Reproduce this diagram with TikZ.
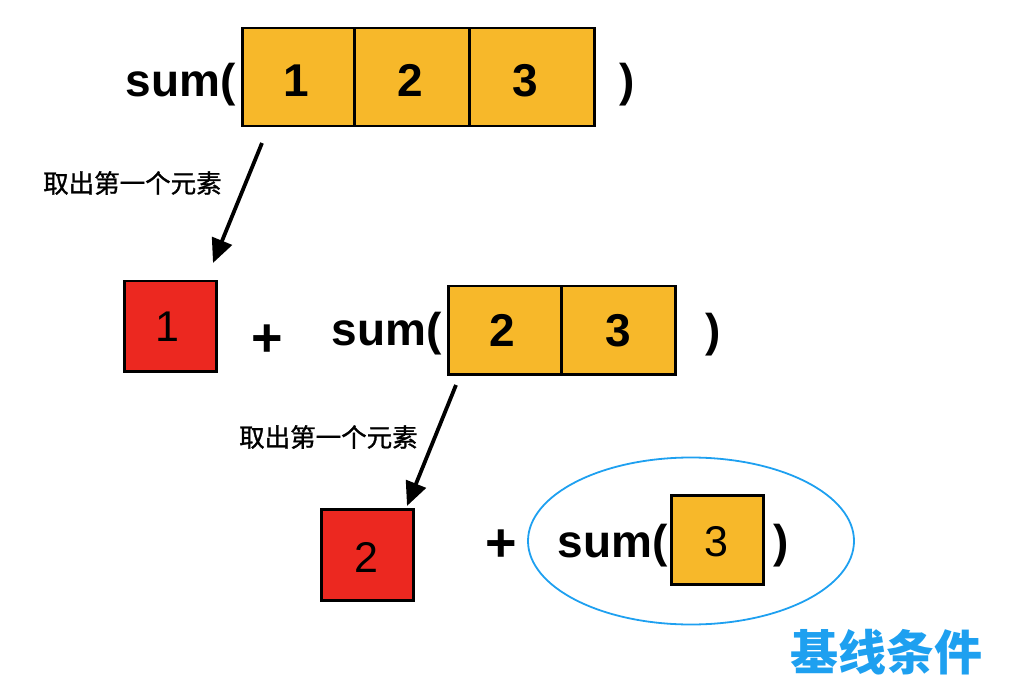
\documentclass[tikz,border=0pt]{standalone}
\usepackage{fontspec}
\setmainfont{Liberation Sans}
\newfontfamily\cjk{Noto Sans CJK SC}
\newfontfamily\cjkmed[FakeBold=1.2]{Noto Sans CJK SC}
\usetikzlibrary{arrows.meta,shapes.geometric}
\definecolor{boxorange}{RGB}{247,184,42}
\definecolor{boxred}{RGB}{236,40,32}
\definecolor{baseblue}{RGB}{30,160,240}
\tikzset{
  cell/.style={draw=black,line width=2.5pt,inner sep=0pt,anchor=north west},
  ocell/.style={cell,fill=boxorange},
  rcell/.style={cell,fill=boxred},
  bigbold/.style={font=\fontsize{46}{46}\selectfont\bfseries,inner sep=0pt},
  plusbold/.style={font=\fontsize{54}{54}\selectfont\bfseries,inner sep=0pt},
  bigreg/.style={font=\fontsize{43}{43}\selectfont,inner sep=0pt},
  cjklabel/.style={font=\cjkmed\fontsize{25.5}{25.5}\selectfont,inner sep=0pt,anchor=west},
  arr/.style={line width=3.8pt,-{Triangle[length=24pt,width=21pt]}},
}
\begin{document}
\begin{tikzpicture}[x=1pt,y=-1pt]
\useasboundingbox (0,0) rectangle (1016,700);
% top row
\node[ocell,minimum width=112pt,minimum height=98pt] (t1) at (241,27) {};
\node[ocell,minimum width=115pt,minimum height=98pt] (t2) at (353,27) {};
\node[ocell,minimum width=125pt,minimum height=98pt] (t3) at (468,27) {};
\node[bigbold,anchor=base east] (tsum) at (236,97) {sum(};
\node[bigbold,anchor=base] (td1) at (296,97) {1};
\node[bigbold,anchor=base] (td2) at (410,97) {2};
\node[bigbold,anchor=base] (td3) at (525,97) {3};
\node[bigbold,anchor=base] (tclose) at (627,97) {)};
% arrow 1
\coordinate (a1s) at (262,143);
\coordinate (a1e) at (213,263);
\draw[arr] (a1s) -- (a1e);
\node[cjklabel] (lab1) at (43,183) {取出第一个元素};
% middle row
\node[rcell,minimum width=92pt,minimum height=90pt] (r1) at (123,280) {};
\node[bigreg,anchor=base] (rd1) at (167,341) {1};
\node[plusbold] (plus1) at (267,341) {+};
\node[ocell,minimum width=113pt,minimum height=88pt] (m1) at (447,285) {};
\node[ocell,minimum width=114pt,minimum height=88pt] (m2) at (560,285) {};
\node[bigbold,anchor=base east] (msum) at (442,345) {sum(};
\node[bigbold,anchor=base] (md2) at (502,346) {2};
\node[bigbold,anchor=base] (md3) at (618,346) {3};
\node[bigbold,anchor=base] (mclose) at (713,346) {)};
% arrow 2
\coordinate (a2s) at (456,385);
\coordinate (a2e) at (407,506);
\draw[arr] (a2s) -- (a2e);
\node[cjklabel] (lab2) at (239,437) {取出第一个元素};
% bottom row
\node[rcell,minimum width=92pt,minimum height=91pt] (r2) at (320,508) {};
\node[bigreg,anchor=base] (rd2) at (366,572) {2};
\node[plusbold] (plus2) at (501,546) {+};
\node[draw=baseblue,line width=1.8pt,ellipse,minimum width=326pt,minimum height=167pt,inner sep=0pt] (ell) at (691,541) {};
\node[bigbold,anchor=base east] (bsum) at (668,557) {sum(};
\node[ocell,minimum width=92pt,minimum height=89pt] (b1) at (670,494) {};
\node[bigreg,anchor=base] (bd3) at (716,556) {3};
\node[bigbold,anchor=base] (bclose) at (781,557) {)};
\node[font=\cjk\fontsize{48}{48}\selectfont\bfseries,text=baseblue,inner sep=0pt] (base) at (886,652) {基线条件};
\end{tikzpicture}
\end{document}
